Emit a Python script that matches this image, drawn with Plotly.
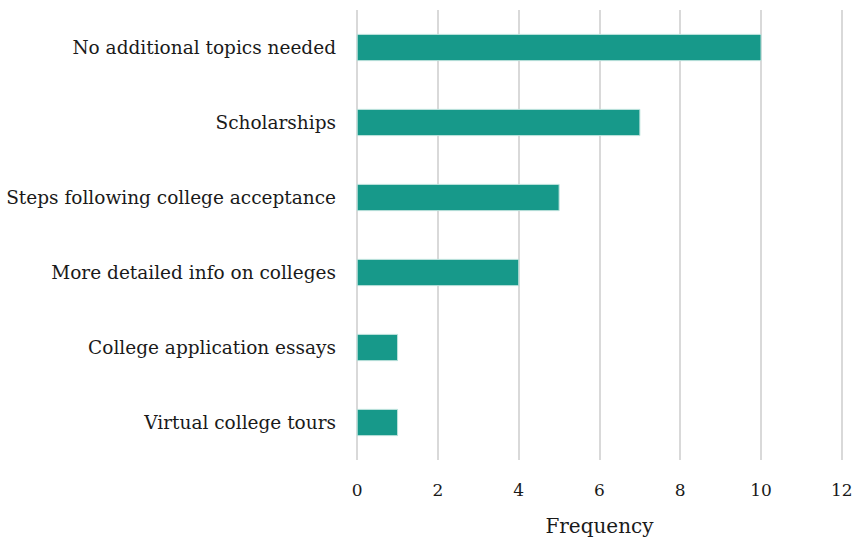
import plotly.graph_objects as go

categories = [
    "No additional topics needed",
    "Scholarships",
    "Steps following college acceptance",
    "More detailed info on colleges",
    "College application essays",
    "Virtual college tours",
]
frequency = [10, 7, 5, 4, 1, 1]
x_ticks = [0, 2, 4, 6, 8, 10, 12]

font_family = "DejaVu Serif"

fig = go.Figure(
    go.Bar(
        x=frequency,
        y=categories,
        orientation="h",
        marker=dict(color="#17998A", line=dict(color="#BFE3DD", width=1)),
        hoverinfo="x+y",
    )
)

fig.update_layout(
    width=855,
    height=539,
    margin=dict(l=356, r=12, t=10, b=79),
    paper_bgcolor="white",
    plot_bgcolor="white",
    bargap=0.65,
    showlegend=False,
    font=dict(family=font_family, size=18, color="#1a1a1a"),
    xaxis=dict(
        range=[-0.03, 12.03],
        tickvals=x_ticks,
        showgrid=True,
        gridcolor="#D9D9D9",
        gridwidth=2,
        zeroline=False,
        showline=False,
        ticks="",
        automargin=False,
        ticklabelstandoff=18,
        tickfont=dict(family=font_family, size=17),
        title=dict(text="Frequency", font=dict(family=font_family, size=20), standoff=19),
    ),
    yaxis=dict(
        autorange="reversed",
        showgrid=False,
        zeroline=False,
        showline=False,
        ticks="",
        automargin=False,
        ticklabelstandoff=19,
        tickfont=dict(family=font_family, size=18.5),
    ),
)

fig.write_html(
    "out.html",
    config={"displayModeBar": False},
    post_script="document.body.style.margin='0';document.body.style.overflow='hidden';",
)
